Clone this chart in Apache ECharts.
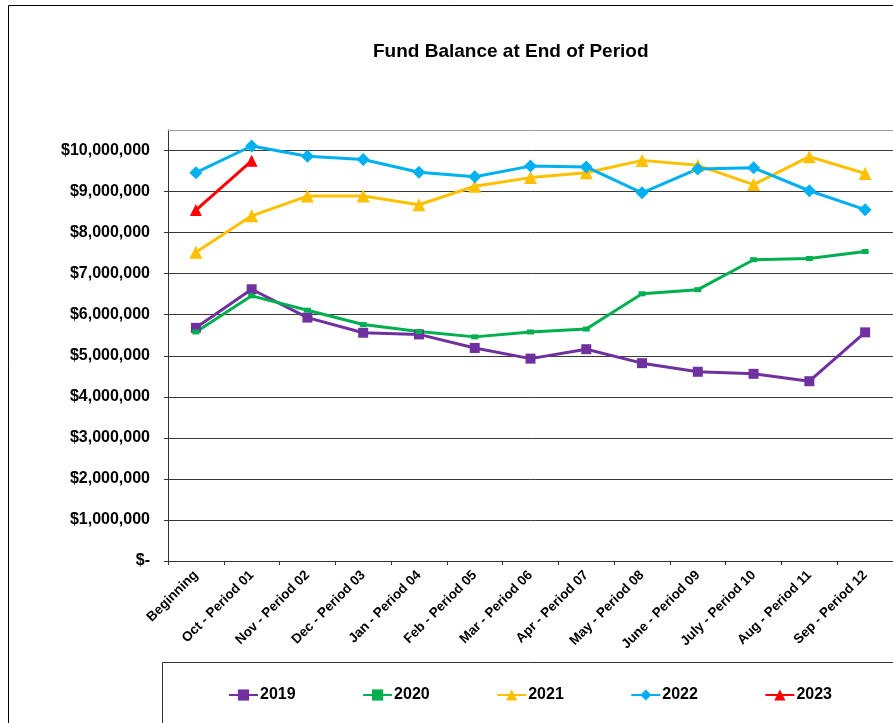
<!DOCTYPE html>
<html>
<head>
<meta charset="utf-8">
<script src="https://cdn.jsdelivr.net/npm/echarts@6/dist/echarts.min.js"></script>
<style>
html,body{margin:0;padding:0;background:#fff;}
#chart{width:893px;height:723px;}
</style>
</head>
<body>
<div id="chart"></div>
<script>
const categories = ['Beginning','Oct - Period 01','Nov - Period 02','Dec - Period 03','Jan - Period 04','Feb - Period 05','Mar - Period 06','Apr - Period 07','May - Period 08','June - Period 09','July - Period 10','Aug - Period 11','Sep - Period 12'];
const y2019 = [5680000, 6620000, 5930000, 5560000, 5520000, 5190000, 4930000, 5160000, 4820000, 4610000, 4560000, 4380000, 5570000];
const y2020 = [5580000, 6460000, 6110000, 5760000, 5590000, 5460000, 5580000, 5650000, 6510000, 6610000, 7340000, 7370000, 7540000];
const y2021 = [7520000, 8410000, 8890000, 8890000, 8680000, 9130000, 9340000, 9460000, 9760000, 9640000, 9170000, 9850000, 9440000];
const y2022 = [9460000, 10110000, 9860000, 9780000, 9470000, 9360000, 9620000, 9600000, 8970000, 9550000, 9580000, 9020000, 8560000];
const y2023 = [8550000, 9750000];
const yTickValues = [0,1000000,2000000,3000000,4000000,5000000,6000000,7000000,8000000,9000000,10000000];

const FONT = '"Liberation Sans", Arial, sans-serif';
const chart = echarts.init(document.getElementById('chart'), null, {renderer:'canvas'});

function mk(name, data, color, symbol, size, width) {
  return {
    name, type:'line', data, smooth:false,
    symbol, symbolSize:size, showAllSymbol:true,
    lineStyle:{color, width},
    itemStyle:{color},
    emphasis:{disabled:true},
    animation:false
  };
}

chart.setOption({
  animation:false,
  backgroundColor:'#fff',
  textStyle:{fontFamily:FONT},
  title:{
    text:'Fund Balance at End of Period',
    left:373, top:42, padding:0,
    textStyle:{fontFamily:FONT, fontWeight:'bold', fontSize:19, color:'#000'}
  },
  graphic:[
    {type:'rect', silent:true, shape:{x:8.5, y:5.5, width:1000, height:1000}, style:{fill:'none', stroke:'#000', lineWidth:1}},
    {type:'rect', silent:true, shape:{x:162.5, y:662.5, width:900, height:200}, style:{fill:'none', stroke:'#333', lineWidth:1}}
  ],
  legend:{
    left:228, top:687, padding:0,
    itemWidth:29, itemHeight:14, itemGap:66.5,
    textStyle:{fontFamily:FONT, fontWeight:'bold', fontSize:16, color:'#000', padding:[0,0,0,-3]},
    data:['2019','2020','2021','2022','2023']
  },
  grid:{left:168, right:-5, top:130, bottom:162, containLabel:false},
  xAxis:[{
    type:'category', data:categories, boundaryGap:true,
    axisLine:{lineStyle:{color:'#333', width:1}},
    axisTick:{show:true, alignWithLabel:false, length:4, lineStyle:{color:'#333'}},
    axisLabel:{rotate:45, margin:12, interval:0, fontFamily:FONT, fontWeight:'bold', fontSize:13.5, color:'#000'},
    splitLine:{show:false}
  },{
    type:'category', data:categories, boundaryGap:true, position:'top',
    axisLine:{show:true, lineStyle:{color:'#a0a0a0', width:1}},
    axisTick:{show:false}, axisLabel:{show:false}, splitLine:{show:false}
  }],
  yAxis:{
    type:'value', min:0, max:10500000, interval:1000000,
    axisLine:{show:true, lineStyle:{color:'#333', width:1}},
    axisTick:{show:true, length:4, lineStyle:{color:'#333'}, customValues:yTickValues},
    axisLabel:{
      margin:18, fontFamily:FONT, fontWeight:'bold', fontSize:16, color:'#000',
      customValues:yTickValues,
      formatter:function(v){
        if (v === 0) return '$-';
        if (v % 1000000 !== 0) return '';
        return '$' + v.toLocaleString('en-US');
      }
    },
    splitLine:{show:true, lineStyle:{color:'#3a3a3a', width:1}}
  },
  series:[
    mk('2019', y2019, '#7030A0', 'rect', 10, 3),
    mk('2020', y2020, '#00B050', 'rect', [7,5], 3),
    mk('2021', y2021, '#FFC000', 'triangle', 13, 3),
    mk('2022', y2022, '#00B0F0', 'diamond', 13, 3),
    mk('2023', y2023, '#FF0000', 'triangle', 12, 3)
  ]
});
</script>
</body>
</html>
